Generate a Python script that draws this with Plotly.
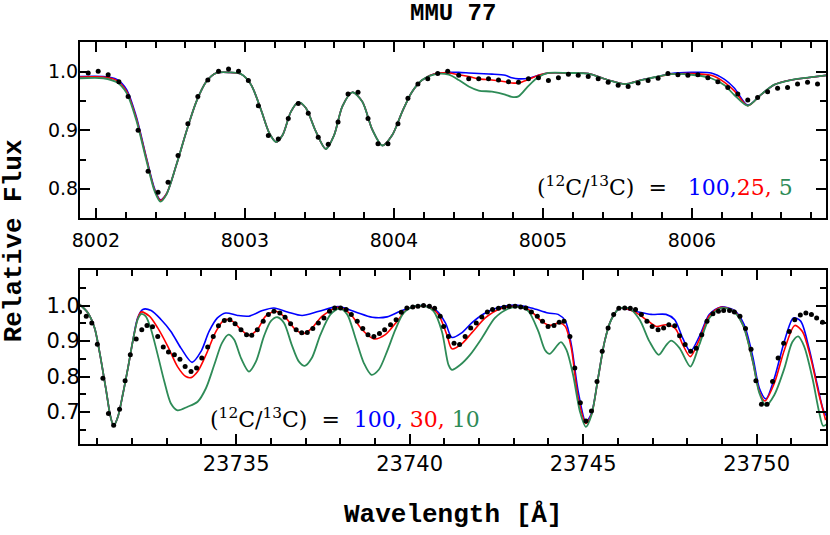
import plotly.graph_objects as go
from plotly.subplots import make_subplots

# ---------------- top panel (8002-8007 A) ----------------
TOP_OBS_WL = [8001.948, 8002.015, 8002.082, 8002.154, 8002.216, 8002.283, 8002.350, 8002.417, 8002.484, 8002.551,
              8002.617, 8002.684, 8002.751, 8002.823, 8002.890, 8002.957, 8003.023, 8003.090, 8003.157, 8003.224,
              8003.291, 8003.358, 8003.425, 8003.492, 8003.559, 8003.625, 8003.692, 8003.759, 8003.826, 8003.893,
              8003.960, 8004.027, 8004.094, 8004.161, 8004.227, 8004.294, 8004.361, 8004.435, 8004.502, 8004.569,
              8004.635, 8004.702, 8004.769, 8004.836, 8004.903, 8004.970, 8005.037, 8005.104, 8005.171, 8005.237,
              8005.304, 8005.371, 8005.438, 8005.505, 8005.572, 8005.639, 8005.706, 8005.773, 8005.839, 8005.906,
              8005.973, 8006.040, 8006.107, 8006.174, 8006.241, 8006.308, 8006.375, 8006.441, 8006.508, 8006.575,
              8006.642, 8006.709, 8006.776, 8006.843]
TOP_OBS_FLUX = [0.998, 1.001, 0.995, 0.983, 0.958, 0.900, 0.830, 0.794, 0.811, 0.857,
                0.911, 0.958, 0.986, 1.001, 1.005, 1.001, 0.985, 0.942, 0.891, 0.885,
                0.920, 0.946, 0.929, 0.888, 0.876, 0.914, 0.962, 0.965, 0.920, 0.877,
                0.877, 0.911, 0.955, 0.979, 0.988, 0.997, 1.001, 0.994, 0.988, 0.988,
                0.988, 0.986, 0.983, 0.982, 0.988, 0.990, 0.985, 0.990, 0.996, 0.994,
                0.992, 0.988, 0.982, 0.977, 0.975, 0.981, 0.985, 0.989, 0.997, 0.995,
                0.994, 0.995, 0.990, 0.983, 0.973, 0.962, 0.952, 0.956, 0.966, 0.972,
                0.973, 0.979, 0.982, 0.979]

TOP_MODEL_WL = [8001.890, 8002.050, 8002.140, 8002.205, 8002.270, 8002.340, 8002.395, 8002.433, 8002.473, 8002.540,
                8002.607, 8002.674, 8002.740, 8002.807, 8002.896, 8002.975, 8003.041, 8003.108, 8003.164, 8003.209,
                8003.253, 8003.309, 8003.360, 8003.409, 8003.476, 8003.543, 8003.599, 8003.654, 8003.721, 8003.788,
                8003.855, 8003.922, 8003.989, 8004.056, 8004.122, 8004.189, 8004.279, 8004.368, 8004.435, 8004.502,
                8004.569, 8004.658, 8004.747, 8004.791, 8004.836, 8004.903, 8004.970, 8005.037, 8005.171, 8005.304,
                8005.438, 8005.550, 8005.661, 8005.773, 8005.862, 8005.996, 8006.129, 8006.219, 8006.286, 8006.375,
                8006.464, 8006.553, 8006.664, 8006.776, 8006.900]
TOP_R100 = [0.992, 0.992, 0.987, 0.970, 0.924, 0.852, 0.799, 0.781, 0.791, 0.841,
            0.898, 0.949, 0.983, 0.998, 0.999, 0.996, 0.978, 0.935, 0.895, 0.880,
            0.892, 0.932, 0.948, 0.938, 0.898, 0.868, 0.892, 0.941, 0.965, 0.949,
            0.901, 0.874, 0.892, 0.932, 0.966, 0.986, 0.997, 0.999, 0.999, 0.998,
            0.997, 0.996, 0.994, 0.990, 0.988, 0.989, 0.994, 0.998, 0.998, 0.997,
            0.986, 0.979, 0.986, 0.992, 0.997, 0.999, 0.998, 0.987, 0.972, 0.943,
            0.961, 0.978, 0.986, 0.990, 0.994]
TOP_R25 = [0.991, 0.991, 0.985, 0.967, 0.921, 0.850, 0.797, 0.780, 0.791, 0.841,
           0.898, 0.949, 0.983, 0.998, 0.999, 0.996, 0.978, 0.935, 0.895, 0.880,
           0.892, 0.932, 0.948, 0.938, 0.898, 0.868, 0.892, 0.941, 0.965, 0.949,
           0.901, 0.874, 0.892, 0.932, 0.966, 0.986, 0.997, 0.998, 0.995, 0.992,
           0.988, 0.986, 0.983, 0.981, 0.981, 0.987, 0.994, 0.998, 0.998, 0.997,
           0.986, 0.979, 0.986, 0.992, 0.996, 0.997, 0.994, 0.982, 0.967, 0.942,
           0.961, 0.978, 0.986, 0.990, 0.994]
TOP_R5 = [0.989, 0.989, 0.982, 0.964, 0.918, 0.847, 0.795, 0.778, 0.790, 0.841,
          0.898, 0.949, 0.983, 0.998, 0.999, 0.996, 0.978, 0.935, 0.895, 0.880,
          0.892, 0.932, 0.948, 0.938, 0.898, 0.868, 0.892, 0.941, 0.965, 0.949,
          0.901, 0.874, 0.892, 0.932, 0.966, 0.986, 0.996, 0.995, 0.986, 0.975,
          0.968, 0.966, 0.961, 0.957, 0.958, 0.976, 0.991, 0.998, 0.998, 0.997,
          0.986, 0.979, 0.986, 0.992, 0.996, 0.995, 0.989, 0.977, 0.960, 0.942,
          0.961, 0.978, 0.986, 0.990, 0.994]

# ---------------- bottom panel (23730-23752 A) ----------------
BOT_OBS_WL = [23730.49, 23730.68, 23730.84, 23731.00, 23731.16, 23731.32, 23731.47, 23731.64, 23731.80, 23731.95,
              23732.12, 23732.28, 23732.43, 23732.59, 23732.74, 23732.90, 23733.05, 23733.22, 23733.38, 23733.53,
              23733.70, 23733.86, 23734.01, 23734.18, 23734.34, 23734.49, 23734.66, 23734.82, 23734.97, 23735.14,
              23735.30, 23735.45, 23735.61, 23735.78, 23735.93, 23736.09, 23736.26, 23736.41, 23736.57, 23736.73,
              23736.89, 23737.05, 23737.21, 23737.37, 23737.53, 23737.69, 23737.84, 23738.01, 23738.17, 23738.32,
              23738.49, 23738.65, 23738.80, 23738.97, 23739.13, 23739.28, 23739.45, 23739.61, 23739.76, 23739.92,
              23740.09, 23740.24, 23740.40, 23740.57, 23740.72, 23740.88,
              23740.98, 23741.12, 23741.28, 23741.44, 23741.60, 23741.76, 23741.92, 23742.08, 23742.24, 23742.39,
              23742.56, 23742.72, 23742.87, 23743.04, 23743.20, 23743.35, 23743.51, 23743.68, 23743.83, 23743.99,
              23744.16, 23744.31, 23744.45, 23744.62, 23744.76, 23744.92, 23745.08, 23745.24, 23745.40, 23745.55,
              23745.72, 23745.88, 23746.03, 23746.20, 23746.36, 23746.51, 23746.68, 23746.84, 23746.99, 23747.16,
              23747.32, 23747.47, 23747.64, 23747.78, 23747.94, 23748.10, 23748.26, 23748.42, 23748.57, 23748.74,
              23748.90, 23749.05, 23749.22, 23749.36, 23749.52, 23749.68, 23749.84, 23749.98, 23750.14, 23750.30,
              23750.46, 23750.62, 23750.78, 23750.94, 23751.10, 23751.26, 23751.42, 23751.58, 23751.73, 23751.90]
BOT_OBS_FLUX = [0.982, 0.970, 0.951, 0.891, 0.795, 0.696, 0.663, 0.708, 0.788, 0.861,
                0.906, 0.932, 0.944, 0.940, 0.913, 0.883, 0.869, 0.861, 0.849, 0.828,
                0.814, 0.824, 0.852, 0.883, 0.913, 0.943, 0.958, 0.960, 0.949, 0.932,
                0.918, 0.916, 0.932, 0.956, 0.975, 0.984, 0.979, 0.967, 0.949, 0.932,
                0.923, 0.924, 0.935, 0.951, 0.965, 0.984, 0.993, 0.993, 0.989, 0.975,
                0.956, 0.935, 0.918, 0.913, 0.921, 0.932, 0.946, 0.960, 0.981, 0.993,
                0.996, 0.998, 1.000, 0.998, 0.992, 0.970,
                0.941, 0.913, 0.894, 0.890, 0.913, 0.937, 0.951, 0.968, 0.982, 0.989,
                0.992, 0.995, 0.998, 0.998, 0.996, 0.993, 0.982, 0.970, 0.956, 0.941,
                0.944, 0.953, 0.956, 0.913, 0.824, 0.726, 0.675, 0.703, 0.786, 0.871,
                0.937, 0.975, 0.992, 0.993, 0.992, 0.989, 0.975, 0.956, 0.941, 0.932,
                0.937, 0.946, 0.943, 0.915, 0.890, 0.871, 0.880, 0.918, 0.956, 0.977,
                0.984, 0.986, 0.986, 0.982, 0.970, 0.935, 0.877, 0.788, 0.722, 0.722,
                0.786, 0.852, 0.894, 0.927, 0.960, 0.973, 0.979, 0.975, 0.965, 0.953]

BOT_R100_WL = [23730.49, 23730.73, 23730.92, 23731.06, 23731.26, 23731.37, 23731.47, 23731.59, 23731.73, 23731.88,
               23732.02, 23732.16, 23732.31, 23732.55, 23732.84, 23733.12, 23733.41, 23733.73, 23733.99, 23734.22,
               23734.46, 23734.70, 23735.04, 23735.37, 23735.76, 23736.09, 23736.48, 23736.90, 23737.39, 23737.94,
               23738.44, 23738.92, 23739.35, 23739.73, 23740.16, 23740.50, 23740.79, 23741.03, 23741.22, 23741.50,
               23741.79, 23742.13, 23742.51, 23743.04, 23743.51, 23743.99, 23744.28, 23744.49, 23744.66, 23744.86,
               23745.08, 23745.24, 23745.43, 23745.62, 23745.81, 23746.05, 23746.49, 23746.96, 23747.39, 23747.64,
               23747.87, 23748.09, 23748.35, 23748.64, 23748.97, 23749.36, 23749.64, 23749.89, 23750.08, 23750.27,
               23750.51, 23750.80, 23751.06, 23751.27, 23751.51, 23751.75, 23751.94, 23752.09]
BOT_R100 = [1.003, 0.979, 0.937, 0.871, 0.757, 0.691, 0.661, 0.686, 0.748, 0.823,
            0.899, 0.965, 0.989, 0.986, 0.960, 0.927, 0.880, 0.840, 0.871, 0.927,
            0.965, 0.979, 0.972, 0.970, 0.986, 0.993, 0.982, 0.972, 0.984, 0.997,
            0.982, 0.967, 0.968, 0.984, 0.998, 0.998, 0.984, 0.951, 0.910, 0.923,
            0.951, 0.976, 0.993, 1.001, 0.993, 0.979, 0.975, 0.956, 0.890, 0.757,
            0.672, 0.696, 0.795, 0.899, 0.960, 0.992, 0.984, 0.975, 0.975, 0.960,
            0.908, 0.871, 0.913, 0.975, 0.996, 0.986, 0.946, 0.856, 0.767, 0.737,
            0.795, 0.899, 0.965, 0.956, 0.880, 0.776, 0.701, 0.680]

BOT_R30_WL = [23730.49, 23730.73, 23730.92, 23731.06, 23731.26, 23731.37, 23731.47, 23731.59, 23731.73, 23731.88,
              23732.02, 23732.16, 23732.26, 23732.50, 23732.74, 23733.03, 23733.31, 23733.55, 23733.70, 23733.89,
              23734.13, 23734.42, 23734.66, 23734.89, 23735.14, 23735.37, 23735.61, 23735.85, 23736.14, 23736.43,
              23736.71, 23736.95, 23737.19, 23737.48, 23737.96, 23738.30, 23738.63, 23738.97, 23739.30, 23739.64,
              23739.92, 23740.26, 23740.55, 23740.83, 23741.07, 23741.22, 23741.50, 23741.79, 23742.18, 23742.56,
              23743.04, 23743.47, 23743.80, 23744.04, 23744.33, 23744.49, 23744.66, 23744.86, 23745.08, 23745.24,
              23745.43, 23745.62, 23745.81, 23746.05, 23746.49, 23746.82, 23747.11, 23747.39, 23747.66, 23747.87,
              23748.09, 23748.35, 23748.64, 23748.97, 23749.36, 23749.64, 23749.89, 23750.08, 23750.24, 23750.51,
              23750.80, 23751.10, 23751.32, 23751.56, 23751.80, 23751.99]
BOT_R30 = [1.003, 0.979, 0.937, 0.871, 0.757, 0.691, 0.661, 0.686, 0.748, 0.823,
           0.899, 0.962, 0.982, 0.970, 0.937, 0.885, 0.828, 0.800, 0.797, 0.814,
           0.861, 0.927, 0.960, 0.956, 0.932, 0.916, 0.932, 0.970, 0.984, 0.965,
           0.932, 0.921, 0.937, 0.970, 0.995, 0.975, 0.932, 0.906, 0.918, 0.956,
           0.989, 0.998, 0.996, 0.975, 0.918, 0.878, 0.892, 0.923, 0.965, 0.989,
           0.998, 0.986, 0.956, 0.944, 0.951, 0.941, 0.880, 0.739, 0.668, 0.693,
           0.795, 0.899, 0.960, 0.992, 0.982, 0.960, 0.941, 0.946, 0.935, 0.890,
           0.856, 0.904, 0.972, 0.995, 0.984, 0.937, 0.842, 0.757, 0.731, 0.781,
           0.875, 0.944, 0.927, 0.852, 0.748, 0.677]

BOT_R10_WL = [23730.49, 23730.73, 23730.92, 23731.06, 23731.26, 23731.37, 23731.47, 23731.59, 23731.73, 23731.88,
              23732.02, 23732.16, 23732.26, 23732.39, 23732.55, 23732.74, 23732.93, 23733.12, 23733.31, 23733.60,
              23733.89, 23734.13, 23734.37, 23734.59, 23734.78, 23734.94, 23735.14, 23735.37, 23735.57, 23735.80,
              23736.00, 23736.19, 23736.38, 23736.60, 23736.81, 23736.98, 23737.18, 23737.43, 23737.72, 23737.98,
              23738.20, 23738.44, 23738.68, 23738.90, 23739.11, 23739.35, 23739.59, 23739.83, 23740.16, 23740.45,
              23740.69, 23740.93, 23741.12, 23741.22, 23741.46, 23741.74, 23742.08, 23742.46, 23742.84, 23743.13,
              23743.42, 23743.71, 23743.90, 23744.04, 23744.36, 23744.52, 23744.71, 23744.91, 23745.08, 23745.24,
              23745.43, 23745.62, 23745.81, 23746.05, 23746.34, 23746.63, 23746.91, 23747.18, 23747.39, 23747.54,
              23747.78, 23748.09, 23748.35, 23748.64, 23748.97, 23749.31, 23749.60, 23749.89, 23750.08, 23750.27,
              23750.51, 23750.80, 23751.03, 23751.20, 23751.37, 23751.61, 23751.80, 23751.92, 23752.09]
BOT_R10 = [1.003, 0.979, 0.937, 0.871, 0.757, 0.691, 0.661, 0.686, 0.748, 0.823,
           0.899, 0.960, 0.976, 0.970, 0.932, 0.861, 0.786, 0.724, 0.705, 0.715,
           0.729, 0.767, 0.833, 0.894, 0.918, 0.904, 0.852, 0.814, 0.842, 0.913,
           0.956, 0.967, 0.951, 0.890, 0.842, 0.830, 0.852, 0.918, 0.975, 0.992,
           0.975, 0.908, 0.838, 0.805, 0.819, 0.871, 0.932, 0.979, 0.998, 0.998,
           0.984, 0.927, 0.833, 0.819, 0.833, 0.861, 0.908, 0.965, 0.991, 0.996,
           0.984, 0.927, 0.875, 0.864, 0.897, 0.875, 0.805, 0.701, 0.658, 0.691,
           0.795, 0.899, 0.960, 0.992, 0.991, 0.960, 0.899, 0.861, 0.888, 0.901,
           0.880, 0.828, 0.890, 0.965, 0.993, 0.986, 0.946, 0.842, 0.753, 0.718,
           0.748, 0.823, 0.897, 0.913, 0.885, 0.795, 0.701, 0.661, 0.672]

TOP_XTICKS = [8002, 8003, 8004, 8005, 8006]
TOP_YTICKS = [0.8, 0.9, 1.0]
BOT_XTICKS = [23735, 23740, 23745, 23750]
BOT_YTICKS = [0.7, 0.8, 0.9, 1.0]

BLUE, RED, GREEN = "#0000ff", "#ff0000", "#2e8b57"

fig = make_subplots(rows=2, cols=1, vertical_spacing=0.13)

def add_panel(row, mwl_b, fb, mwl_r, fr, mwl_g, fg, owl, of):
    fig.add_trace(go.Scatter(x=mwl_b, y=fb, mode="lines", line=dict(color=BLUE, width=1.6, shape="spline", smoothing=0.8),
                             showlegend=False, hoverinfo="skip"), row=row, col=1)
    fig.add_trace(go.Scatter(x=mwl_r, y=fr, mode="lines", line=dict(color=RED, width=1.6, shape="spline", smoothing=0.8),
                             showlegend=False, hoverinfo="skip"), row=row, col=1)
    fig.add_trace(go.Scatter(x=mwl_g, y=fg, mode="lines", line=dict(color=GREEN, width=1.8, shape="spline", smoothing=0.8),
                             showlegend=False, hoverinfo="skip"), row=row, col=1)
    fig.add_trace(go.Scatter(x=owl, y=of, mode="markers", marker=dict(color="black", size=5),
                             showlegend=False, hoverinfo="skip"), row=row, col=1)

add_panel(1, TOP_MODEL_WL, TOP_R100, TOP_MODEL_WL, TOP_R25, TOP_MODEL_WL, TOP_R5, TOP_OBS_WL, TOP_OBS_FLUX)
add_panel(2, BOT_R100_WL, BOT_R100, BOT_R30_WL, BOT_R30, BOT_R10_WL, BOT_R10, BOT_OBS_WL, BOT_OBS_FLUX)

TICKFONT = "DejaVu Sans"
LABELFONT = "Liberation Mono"
ANNFONT = "DejaVu Serif"

common = dict(showgrid=False, zeroline=False, showline=True, linecolor="black", linewidth=2,
              mirror="allticks", ticks="inside", tickcolor="black", tickwidth=1.5)

fig.update_xaxes(range=[8001.893, 8006.9], tickvals=TOP_XTICKS, ticktext=[str(v) for v in TOP_XTICKS],
                 ticklen=10, ticklabelstandoff=4, tickfont=dict(family=TICKFONT, size=19, color="black"),
                 minor=dict(dtick=0.2, tick0=8002, ticks="inside", ticklen=6, tickcolor="black", tickwidth=1.5),
                 domain=[0, 1], row=1, col=1, **common)
fig.update_yaxes(range=[0.75, 1.051], tickvals=TOP_YTICKS, tickformat=".1f", ticklen=10, ticklabelstandoff=-4,
                 tickfont=dict(family=TICKFONT, size=19, color="black"),
                 minor=dict(dtick=0.05, tick0=0.75, ticks="inside", ticklen=6, tickcolor="black", tickwidth=1.5),
                 domain=[0.5622, 1.0], row=1, col=1, **common)
fig.update_xaxes(range=[23730.5, 23752.0], tickvals=BOT_XTICKS, ticktext=[str(v) for v in BOT_XTICKS],
                 ticklen=10, tickfont=dict(family=TICKFONT, size=21, color="black"),
                 minor=dict(dtick=1, tick0=23730, ticks="inside", ticklen=6, tickcolor="black", tickwidth=1.5),
                 domain=[0, 1], row=2, col=1, **common)
fig.update_yaxes(range=[0.61, 1.10], tickvals=BOT_YTICKS, tickformat=".1f", ticklen=10, ticklabelstandoff=-6,
                 tickfont=dict(family=TICKFONT, size=21, color="black"),
                 minor=dict(dtick=0.05, tick0=0.6, ticks="inside", ticklen=6, tickcolor="black", tickwidth=1.5),
                 domain=[0.0, 0.4328], row=2, col=1, **common)

ann = [
    dict(text="<b>MMU 77</b>", x=0.5, y=1.07, xref="paper", yref="paper", showarrow=False,
         font=dict(family=LABELFONT, size=24, color="black"), xanchor="center", yanchor="middle"),
    dict(text="<b>Relative Flux</b>", x=-0.088, y=0.505, xref="paper", yref="paper", showarrow=False, textangle=-90,
         font=dict(family=LABELFONT, size=26, color="black"), xanchor="center", yanchor="middle"),
    dict(text="<b>Wavelength [Å]</b>", x=0.5, y=-0.177, xref="paper", yref="paper", showarrow=False,
         font=dict(family=LABELFONT, size=26, color="black"), xanchor="center", yanchor="middle"),
    dict(text="(<sup>12</sup>C/<sup>13</sup>C)\u00a0\u00a0=\u00a0\u00a0\u00a0"
              f"<span style='color:{BLUE}'>100,</span><span style='color:{RED}'>25,</span>"
              f"\u00a0<span style='color:{GREEN}'>5</span>",
         x=(536 - 80) / 748, y=(444 - 186) / 402, xref="paper", yref="paper", showarrow=False,
         font=dict(family=ANNFONT, size=22, color="black"), xanchor="left", yanchor="middle"),
    dict(text="(<sup>12</sup>C/<sup>13</sup>C)\u00a0\u00a0=\u00a0\u00a0"
              f"<span style='color:{BLUE}'>100,</span>\u00a0<span style='color:{RED}'>30,</span>"
              f"\u00a0<span style='color:{GREEN}'>10</span>",
         x=(208 - 80) / 748, y=(444 - 418) / 402, xref="paper", yref="paper", showarrow=False,
         font=dict(family=ANNFONT, size=22, color="black"), xanchor="left", yanchor="middle"),
]
fig.update_layout(width=830, height=535, margin=dict(l=80, r=2, t=42, b=91),
                  paper_bgcolor="white", plot_bgcolor="white", annotations=ann, showlegend=False)

# remove the default 8 px page margin so the figure sits at the window's top-left corner
fig.write_html("out.html", config={"displayModeBar": False},
               post_script="document.body.style.margin='0';document.body.style.overflow='hidden';")
